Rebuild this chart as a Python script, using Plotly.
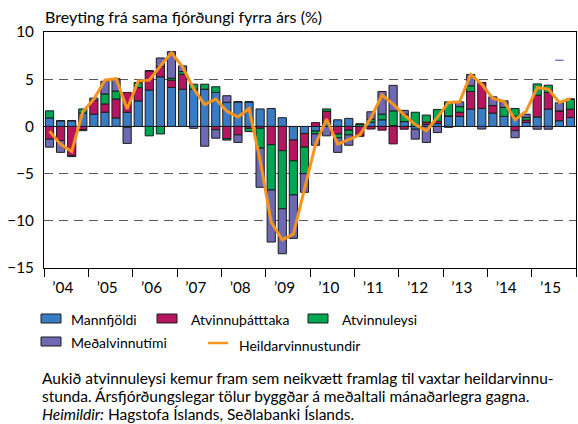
import plotly.graph_objects as go

# Quarters 2004Q1 - 2015Q4
quarters = [f"{y}Q{q}" for y in range(2004, 2016) for q in range(1, 5)]
year_labels = ["’04", "’05", "’06", "’07", "’08", "’09",
               "’10", "’11", "’12", "’13", "’14", "’15"]

# Contributions to year-on-year change in total hours worked (percentage points)
mannfjoldi = [0.9, 0.6, 0.6, 1.4, 1.3, 1.5, 0.9, 1.5,
              2.7, 3.85, 5.25, 4.12, 3.94, 3.94, 3.94, 3.6,
              2.55, 2.6, 2.6, 1.85, 1.9, 0.92, -1.45, -0.75,
              -0.5, 0.5, 0.7, 0.85, 0.0, 0.45, 0.7, 0.1,
              0.5, -0.3, 0.2, 0.3, 1.1, 1.05, 1.83, 1.9,
              1.41, 1.06, 1.1, 0.42, 1.0, 1.83, 0.6, 0.95]
atvinnuthatttaka = [-1.35, -1.5, -3.1, -0.35, 1.45, 0.88, 2.0, 2.1,
                    1.41, 2.04, 1.1, 0.78, 1.59, 0.0, 0.0, -0.35,
                    -1.3, -0.9, -0.2, -0.2, -1.94, -2.57, -2.19, -1.45,
                    0.4, 1.1, -0.8, -0.4, -1.05, -0.28, -0.4, -1.85,
                    -0.3, 0.0, 0.25, 0.25, 0.0, 0.45, 1.87, 2.75,
                    0.8, 0.0, -0.45, 0.25, 2.3, 1.77, 1.05, 0.88]
atvinnuleysi = [0.75, 0.0, 0.0, 0.45, 0.0, 1.06, 0.85, -0.1,
                0.53, -1.0, -0.8, 0.2, 0.28, 0.53, 0.53, 0.6,
                -0.15, 0.0, -0.35, -2.1, -4.79, -6.16, -3.62, -2.8,
                -0.3, 0.25, -0.4, -0.5, 0.25, 0.3, 0.6, 1.55,
                0.8, 1.5, 0.75, 1.25, 1.5, 0.6, 0.6, 0.0,
                0.0, 0.95, 0.8, 0.28, 1.2, 0.77, 0.0, 1.06]
medalvinnutimi = [-0.85, -1.25, -0.1, -0.1, 0.25, 1.34, 1.3, -1.7,
                  0.0, 0.0, 0.9, 2.82, 0.6, -0.2, -2.1, -0.9,
                  0.7, -0.8, 0.0, -4.15, -5.52, -4.76, -4.6, -1.98,
                  -1.2, -1.0, -1.55, -1.1, 0.0, 0.8, 2.4, 2.7,
                  0.4, -1.05, -1.7, -0.65, -0.1, 0.5, 1.2, -0.28,
                  0.92, 0.7, -0.75, 0.35, -0.3, -0.3, 0.85, 0.0]
heildarvinnustundir = [-0.5, -1.9, -2.65, 1.55, 2.9, 4.9, 5.05, 1.85,
                       4.8, 4.9, 6.4, 7.8, 6.3, 4.0, 2.3, 2.9,
                       1.6, 1.0, 1.9, -3.6, -10.15, -12.0, -11.4, -6.5,
                       -1.9, 0.77, -1.87, -1.4, -0.9, 0.9, 3.31, 2.36,
                       1.2, 0.2, -0.46, 0.95, 2.54, 2.6, 5.5, 4.45,
                       2.96, 2.65, 0.7, 1.6, 4.1, 3.95, 2.54, 2.95]
# small dash drawn near the top right of the plot
dash_q = ["2015Q3"]
dash_val = [7.0]

series = [
    ("Mannfjöldi", mannfjoldi, "#3a7cc3"),
    ("Atvinnuþátttaka", atvinnuthatttaka, "#b5165f"),
    ("Atvinnuleysi", atvinnuleysi, "#00a651"),
    ("Meðalvinnutími", medalvinnutimi, "#6d69b3"),
]
line_color = "#f7941d"
FONT = "Lato"
FS_TICK = 15.3
FS_TITLE = 16
FS_NOTE = 15.5
FS_LEGEND = 14

xs = list(range(len(quarters)))
fig = go.Figure()
for name, vals, col in series:
    fig.add_trace(go.Bar(
        x=xs, y=vals, name=name, marker_color=col,
        marker_line=dict(color="#1c1c1c", width=1), showlegend=False))
fig.add_trace(go.Scatter(
    x=xs, y=heildarvinnustundir, name="Heildarvinnustundir", mode="lines",
    line=dict(color=line_color, width=3), showlegend=False))
fig.add_trace(go.Scatter(
    x=[quarters.index(q) for q in dash_q], y=dash_val, mode="markers",
    marker=dict(symbol="line-ew", size=6, line=dict(color="#7b78bb", width=1.5)),
    showlegend=False, hoverinfo="skip"))

W, H = 578, 424
L, R, T, B = 44, 2, 32, 156
pw, ph = W - L - R, H - T - B


def px(x):
    return (x - L) / pw


def py(y):
    return (H - B - y) / ph


n_years = len(year_labels)
fig.update_layout(
    width=W, height=H,
    margin=dict(l=L, r=R, t=T, b=B),
    paper_bgcolor="white", plot_bgcolor="white",
    barmode="relative", bargap=0.26,
    font=dict(family=FONT, size=FS_TICK, color="black"),
    xaxis=dict(
        range=[-0.5, len(quarters) - 0.5],
        tickmode="array",
        tickvals=[4 * k + 1.2 for k in range(n_years)],
        ticktext=year_labels,
        ticks="outside", ticklen=6, tickcolor="rgba(0,0,0,0)",
        minor=dict(tickmode="array",
                   tickvals=[4 * k - 0.5 for k in range(n_years + 1)],
                   ticks="outside", ticklen=8, tickcolor="black",
                   tickwidth=1, showgrid=False),
        showgrid=False, zeroline=False,
        showline=True, linecolor="black", linewidth=1, mirror=True,
        tickfont=dict(family=FONT, size=FS_TICK),
    ),
    yaxis=dict(
        range=[-15, 10], tickmode="linear", tick0=-15, dtick=5,
        ticks="outside", ticklen=6, tickcolor="rgba(0,0,0,0)",
        showgrid=True, gridcolor="#5a5a5a", gridwidth=1.2, griddash="9px,6px",
        zeroline=True, zerolinecolor="black", zerolinewidth=1.2,
        showline=True, linecolor="black", linewidth=1, mirror=True,
        tickfont=dict(family=FONT, size=FS_TICK),
    ),
)

annotations = [
    dict(text="Breyting frá sama fjórðungi fyrra árs (%)",
         x=px(43), y=py(17), xanchor="left", yanchor="middle", size=FS_TITLE),
    dict(text="Aukið atvinnuleysi kemur fram sem neikvætt framlag til vaxtar heildarvinnu-",
         x=px(40), y=py(378), xanchor="left", yanchor="middle", size=FS_NOTE),
    dict(text="stunda. Ársfjórðungslegar tölur byggðar á meðaltali mánaðarlegra gagna.",
         x=px(40), y=py(396), xanchor="left", yanchor="middle", size=FS_NOTE),
    dict(text="<i>Heimildir:</i> Hagstofa Íslands, Seðlabanki Íslands.",
         x=px(40), y=py(414), xanchor="left", yanchor="middle", size=FS_NOTE),
]

# Legend built from swatches and labels
shapes = []
legend_boxes = [
    (series[0][0], series[0][2], 41, 318.5, 69),
    (series[1][0], series[1][2], 157, 318.5, 189),
    (series[2][0], series[2][2], 308, 318.5, 340),
    (series[3][0], series[3][2], 41, 341.5, 69),
]
for name, col, x0, yc, tx in legend_boxes:
    shapes.append(dict(type="rect", xref="paper", yref="paper",
                       x0=px(x0), x1=px(x0 + 20), y0=py(yc + 4.5), y1=py(yc - 4.5),
                       fillcolor=col, line=dict(color="#1c1c1c", width=1)))
    annotations.append(dict(text=name, x=px(tx), y=py(yc + 1), xanchor="left",
                            yanchor="middle", size=FS_LEGEND))
shapes.append(dict(type="line", xref="paper", yref="paper",
                   x0=px(208), x1=px(228), y0=py(343), y1=py(343),
                   line=dict(color=line_color, width=2.5)))
annotations.append(dict(text="Heildarvinnustundir", x=px(237), y=py(345),
                        xanchor="left", yanchor="middle", size=FS_LEGEND))

for a in annotations:
    fs = a.pop("size")
    a.update(xref="paper", yref="paper", showarrow=False, align="left",
             font=dict(family=FONT, size=fs, color="black"))

fig.update_layout(annotations=annotations, shapes=shapes)
fig.write_html("out.html")
